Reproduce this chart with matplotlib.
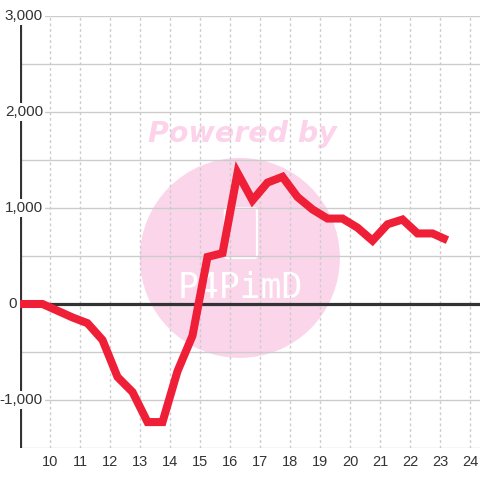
import numpy as np
import matplotlib
matplotlib.use('Agg')
import matplotlib.pyplot as plt
from matplotlib.patches import Ellipse, FancyBboxPatch
from matplotlib.transforms import blended_transform_factory

# data
hours = [8.75, 9.25, 9.75, 10.25, 10.75, 11.25, 11.75, 12.25, 12.75, 13.25,
         13.75, 14.25, 14.75, 15.25, 15.75, 16.25, 16.75, 17.25, 17.75, 18.25,
         18.75, 19.25, 19.75, 20.25, 20.75, 21.25, 21.75, 22.25, 22.75, 23.25]
values = [0, 0, 0, -70, -140, -200, -375, -760, -917, -1230,
          -1230, -700, -330, 490, 530, 1365, 1080, 1265, 1325, 1115,
          985, 890, 890, 795, 660, 830, 880, 735, 735, 665]
x_ticks = list(range(10, 25))
y_labels = [-1000, 0, 1000, 2000, 3000]

plt.rcParams['font.family'] = ['Liberation Sans', 'DejaVu Sans']

fig = plt.figure(figsize=(4.8, 4.8), dpi=100)
ax = fig.add_axes([20/480, 32/480, 460/480, 432/480])
ax.set_xlim(9, 9 + 460/30)
ax.set_ylim(-1500, 3000)
ax.set_axisbelow(True)

for s in ax.spines.values():
    s.set_visible(False)

# watermark
ax.add_patch(Ellipse((0.478, 0.44), 200/460, 200/432, transform=ax.transAxes,
                     facecolor='#fbd5ea', edgecolor='none', zorder=0.1))
ax.add_patch(FancyBboxPatch((0.45, 0.445), 0.06, 0.105, transform=ax.transAxes,
                            boxstyle='round,pad=0.005', facecolor='none',
                            edgecolor='white', lw=1.5, zorder=0.2))
ax.text(0.478, 0.37, 'P4PimD', transform=ax.transAxes, ha='center', va='center',
        fontsize=25, color='white', family='DejaVu Sans Mono', fontweight='light',
        fontstretch='condensed', zorder=0.2)
ax.text(0.483, 0.727, 'Powered by', transform=ax.transAxes, ha='center', va='center',
        fontsize=20.5, color='#fcd3ea', fontweight='heavy', fontstyle='italic',
        family='DejaVu Sans', zorder=0.2)

# grid
ax.set_yticks(np.arange(-1500, 3001, 500))
ax.set_xticks(x_ticks)
ax.grid(axis='y', color='#cccccc', lw=1, ls='-')
ax.grid(axis='x', color='#cccccc', lw=1, ls=(0, (2, 2)))
ax.tick_params(axis='y', length=0, labelleft=False)
ax.tick_params(axis='x', length=0, pad=5, labelsize=10.5, labelcolor='#333333')

ax.axhline(0, color='#333333', lw=2.3, zorder=2.5)
ax.axvline(9, color='#333333', lw=2.3, zorder=2.5)

trans = blended_transform_factory(ax.transAxes, ax.transData)
for v in y_labels:
    if v == 0:
        ax.text(-12/460, v, '0', transform=trans, ha='left', va='center',
                fontsize=11, color='#333333', zorder=5)
        continue
    ax.text(23/460, v, f'{v:,}', transform=trans, ha='right', va='center',
            fontsize=11, color='#333333', zorder=5,
            bbox=dict(facecolor='white', edgecolor='none', pad=1.5))

ax.plot(hours, values, color='#ee1f36', lw=5.8, solid_capstyle='butt',
        solid_joinstyle='miter', zorder=6, clip_on=True)

fig.savefig('out.png', dpi=100)
